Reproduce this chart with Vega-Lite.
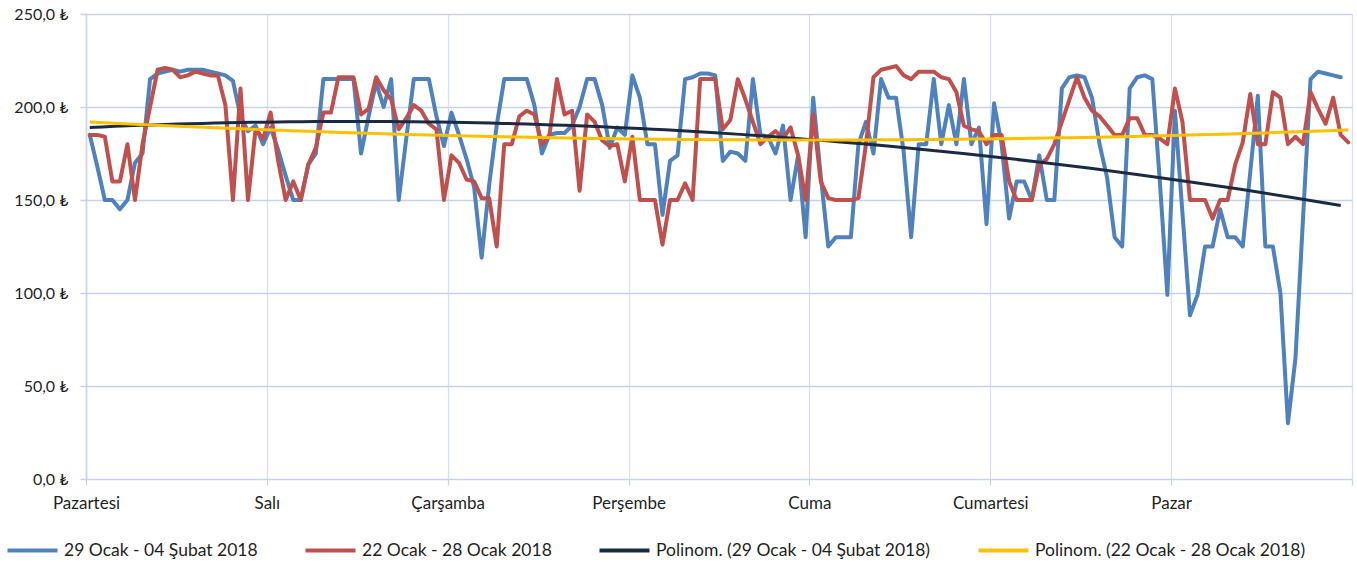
{
  "$schema": "https://vega.github.io/schema/vega-lite/v6.json",
  "autosize": {"type": "none"},
  "padding": {"left": 86, "top": 14, "right": 5, "bottom": 86},
  "width": 1266,
  "height": 465,
  "background": "white",
  "config": {
    "view": {"stroke": null},
    "font": "Lato",
    "axis": {"labelFont": "Lato", "labelColor": "#1f1f1f"},
    "legend": {"labelFont": "Lato", "labelFontSize": 17.5, "labelColor": "#1f1f1f"}
  },
  "datasets": {
    "w5": [
      {"h":0,"v":185},{"h":1,"v":168},{"h":2,"v":150},{"h":3,"v":150},{"h":4,"v":145},{"h":5,"v":150},{"h":6,"v":170},{"h":7,"v":175},{"h":8,"v":215},{"h":9,"v":218},{"h":10,"v":219},{"h":11,"v":220},{"h":12,"v":219},{"h":13,"v":220},{"h":14,"v":220},{"h":15,"v":220},{"h":16,"v":219},{"h":17,"v":218},{"h":18,"v":217},{"h":19,"v":214},{"h":20,"v":195},{"h":21,"v":187},{"h":22,"v":190},{"h":23,"v":180},
      {"h":24,"v":189},{"h":25,"v":177},{"h":26,"v":163},{"h":27,"v":150},{"h":28,"v":150},{"h":29,"v":169},{"h":30,"v":175},{"h":31,"v":215},{"h":32,"v":215},{"h":33,"v":215},{"h":34,"v":215},{"h":35,"v":215},{"h":36,"v":175},{"h":37,"v":195},{"h":38,"v":213},{"h":39,"v":200},{"h":40,"v":215},{"h":41,"v":150},{"h":42,"v":183},{"h":43,"v":215},{"h":44,"v":215},{"h":45,"v":215},{"h":46,"v":195},{"h":47,"v":179},
      {"h":48,"v":197},{"h":49,"v":185},{"h":50,"v":172},{"h":51,"v":157},{"h":52,"v":119},{"h":53,"v":158},{"h":54,"v":190},{"h":55,"v":215},{"h":56,"v":215},{"h":57,"v":215},{"h":58,"v":215},{"h":59,"v":201},{"h":60,"v":175},{"h":61,"v":185},{"h":62,"v":186},{"h":63,"v":186},{"h":64,"v":190},{"h":65,"v":200},{"h":66,"v":215},{"h":67,"v":215},{"h":68,"v":201},{"h":69,"v":178},{"h":70,"v":189},{"h":71,"v":185},
      {"h":72,"v":217},{"h":73,"v":205},{"h":74,"v":180},{"h":75,"v":180},{"h":76,"v":142},{"h":77,"v":171},{"h":78,"v":174},{"h":79,"v":215},{"h":80,"v":216},{"h":81,"v":218},{"h":82,"v":218},{"h":83,"v":217},{"h":84,"v":171},{"h":85,"v":176},{"h":86,"v":175},{"h":87,"v":171},{"h":88,"v":215},{"h":89,"v":185},{"h":90,"v":184},{"h":91,"v":175},{"h":92,"v":190},{"h":93,"v":150},{"h":94,"v":174},{"h":95,"v":130},
      {"h":96,"v":205},{"h":97,"v":163},{"h":98,"v":125},{"h":99,"v":130},{"h":100,"v":130},{"h":101,"v":130},{"h":102,"v":180},{"h":103,"v":192},{"h":104,"v":175},{"h":105,"v":215},{"h":106,"v":205},{"h":107,"v":205},{"h":108,"v":176},{"h":109,"v":130},{"h":110,"v":180},{"h":111,"v":180},{"h":112,"v":215},{"h":113,"v":180},{"h":114,"v":201},{"h":115,"v":180},{"h":116,"v":215},{"h":117,"v":180},{"h":118,"v":189},{"h":119,"v":137},
      {"h":120,"v":202},{"h":121,"v":180},{"h":122,"v":140},{"h":123,"v":160},{"h":124,"v":160},{"h":125,"v":150},{"h":126,"v":174},{"h":127,"v":150},{"h":128,"v":150},{"h":129,"v":210},{"h":130,"v":216},{"h":131,"v":217},{"h":132,"v":216},{"h":133,"v":205},{"h":134,"v":180},{"h":135,"v":162},{"h":136,"v":130},{"h":137,"v":125},{"h":138,"v":210},{"h":139,"v":216},{"h":140,"v":217},{"h":141,"v":215},{"h":142,"v":160},{"h":143,"v":99},
      {"h":144,"v":198},{"h":145,"v":143},{"h":146,"v":88},{"h":147,"v":99},{"h":148,"v":125},{"h":149,"v":125},{"h":150,"v":145},{"h":151,"v":130},{"h":152,"v":130},{"h":153,"v":125},{"h":154,"v":165},{"h":155,"v":206},{"h":156,"v":125},{"h":157,"v":125},{"h":158,"v":100},{"h":159,"v":30},{"h":160,"v":65},{"h":161,"v":140},{"h":162,"v":215},{"h":163,"v":219},{"h":164,"v":218},{"h":165,"v":217},{"h":166,"v":216}
    ],
    "w4": [
      {"h":0,"v":185},{"h":1,"v":185},{"h":2,"v":184},{"h":3,"v":160},{"h":4,"v":160},{"h":5,"v":180},{"h":6,"v":150},{"h":7,"v":180},{"h":8,"v":200},{"h":9,"v":220},{"h":10,"v":221},{"h":11,"v":220},{"h":12,"v":216},{"h":13,"v":217},{"h":14,"v":219},{"h":15,"v":218},{"h":16,"v":217},{"h":17,"v":217},{"h":18,"v":201},{"h":19,"v":150},{"h":20,"v":210},{"h":21,"v":150},{"h":22,"v":188},{"h":23,"v":183},
      {"h":24,"v":197},{"h":25,"v":171},{"h":26,"v":150},{"h":27,"v":160},{"h":28,"v":150},{"h":29,"v":169},{"h":30,"v":178},{"h":31,"v":197},{"h":32,"v":197},{"h":33,"v":216},{"h":34,"v":216},{"h":35,"v":216},{"h":36,"v":196},{"h":37,"v":199},{"h":38,"v":216},{"h":39,"v":209},{"h":40,"v":204},{"h":41,"v":188},{"h":42,"v":194},{"h":43,"v":201},{"h":44,"v":198},{"h":45,"v":191},{"h":46,"v":188},{"h":47,"v":150},
      {"h":48,"v":174},{"h":49,"v":170},{"h":50,"v":161},{"h":51,"v":160},{"h":52,"v":151},{"h":53,"v":151},{"h":54,"v":125},{"h":55,"v":180},{"h":56,"v":180},{"h":57,"v":195},{"h":58,"v":198},{"h":59,"v":196},{"h":60,"v":180},{"h":61,"v":185},{"h":62,"v":215},{"h":63,"v":196},{"h":64,"v":198},{"h":65,"v":155},{"h":66,"v":196},{"h":67,"v":192},{"h":68,"v":182},{"h":69,"v":179},{"h":70,"v":180},{"h":71,"v":160},
      {"h":72,"v":184},{"h":73,"v":150},{"h":74,"v":150},{"h":75,"v":150},{"h":76,"v":126},{"h":77,"v":150},{"h":78,"v":150},{"h":79,"v":159},{"h":80,"v":150},{"h":81,"v":215},{"h":82,"v":215},{"h":83,"v":215},{"h":84,"v":188},{"h":85,"v":193},{"h":86,"v":215},{"h":87,"v":204},{"h":88,"v":192},{"h":89,"v":180},{"h":90,"v":184},{"h":91,"v":187},{"h":92,"v":183},{"h":93,"v":189},{"h":94,"v":174},{"h":95,"v":150},
      {"h":96,"v":196},{"h":97,"v":160},{"h":98,"v":151},{"h":99,"v":150},{"h":100,"v":150},{"h":101,"v":150},{"h":102,"v":151},{"h":103,"v":180},{"h":104,"v":216},{"h":105,"v":220},{"h":106,"v":221},{"h":107,"v":222},{"h":108,"v":217},{"h":109,"v":215},{"h":110,"v":219},{"h":111,"v":219},{"h":112,"v":219},{"h":113,"v":216},{"h":114,"v":215},{"h":115,"v":208},{"h":116,"v":190},{"h":117,"v":188},{"h":118,"v":187},{"h":119,"v":180},
      {"h":120,"v":185},{"h":121,"v":185},{"h":122,"v":160},{"h":123,"v":150},{"h":124,"v":150},{"h":125,"v":150},{"h":126,"v":169},{"h":127,"v":172},{"h":128,"v":180},{"h":129,"v":192},{"h":130,"v":204},{"h":131,"v":216},{"h":132,"v":205},{"h":133,"v":198},{"h":134,"v":195},{"h":135,"v":190},{"h":136,"v":185},{"h":137,"v":185},{"h":138,"v":194},{"h":139,"v":194},{"h":140,"v":185},{"h":141,"v":185},{"h":142,"v":183},{"h":143,"v":180},
      {"h":144,"v":210},{"h":145,"v":192},{"h":146,"v":150},{"h":147,"v":150},{"h":148,"v":150},{"h":149,"v":140},{"h":150,"v":150},{"h":151,"v":150},{"h":152,"v":169},{"h":153,"v":181},{"h":154,"v":207},{"h":155,"v":180},{"h":156,"v":180},{"h":157,"v":208},{"h":158,"v":205},{"h":159,"v":180},{"h":160,"v":184},{"h":161,"v":180},{"h":162,"v":208},{"h":163,"v":199},{"h":164,"v":191},{"h":165,"v":205},{"h":166,"v":185},{"h":167,"v":181}
    ]
  },
  "encoding": {
    "x": {
      "field": "h", "type": "quantitative",
      "scale": {"domain": [-0.5, 167.5], "nice": false, "zero": false},
      "axis": {
        "title": null,
        "values": [-0.5, 23.5, 47.5, 71.5, 95.5, 119.5, 143.5, 167.5],
        "labelExpr": "['Pazartesi','Salı','Çarşamba','Perşembe','Cuma','Cumartesi','Pazar',''][round((datum.value+0.5)/24)]",
        "labelFontSize": 17,
        "labelAlign": "center", "labelPadding": 10, "labelFlush": false, "labelOverlap": false,
        "grid": true, "gridColor": "#d6e0ef", "gridWidth": 1.25,
        "domain": false, "ticks": true, "tickSize": 6, "tickColor": "#c5d3e8", "tickWidth": 1.25
      }
    },
    "y": {
      "field": "v", "type": "quantitative",
      "scale": {"domain": [0, 250], "nice": false},
      "axis": {
        "title": null,
        "values": [0, 50, 100, 150, 200, 250],
        "labelExpr": "replace(format(datum.value, '.1f'), '.', ',') + ' ₺'",
        "labelFontSize": 16,
        "labelPadding": 12,
        "grid": true, "gridColor": "#c5d3e8", "gridWidth": 1.5,
        "domain": true, "domainColor": "#c5d3e8", "domainWidth": 1.5,
        "ticks": true, "tickSize": 6, "tickColor": "#c5d3e8", "tickWidth": 1.5
      }
    }
  },
  "layer": [
    {
      "data": {"name": "w5"},
      "mark": {"type": "line", "strokeWidth": 4, "strokeJoin": "round", "strokeCap": "round"},
      "encoding": {
        "color": {
          "datum": "29 Ocak - 04 Şubat 2018",
          "type": "nominal",
          "scale": {
            "domain": ["29 Ocak - 04 Şubat 2018", "22 Ocak - 28 Ocak 2018", "Polinom. (29 Ocak - 04 Şubat 2018)", "Polinom. (22 Ocak - 28 Ocak 2018)"],
            "range": ["#4f81bd", "#c0504d", "#1b2a43", "#ffc000"]
          },
          "legend": {
            "title": null, "orient": "none", "direction": "horizontal",
            "legendX": -81, "legendY": 509,
            "symbolType": "stroke", "symbolSize": 2500, "symbolStrokeWidth": 4.2,
            "labelOffset": 4, "columnPadding": 39, "labelLimit": 400
          }
        }
      }
    },
    {
      "data": {"name": "w4"},
      "mark": {"type": "line", "strokeWidth": 4, "strokeJoin": "round", "strokeCap": "round"},
      "encoding": {"color": {"datum": "22 Ocak - 28 Ocak 2018", "type": "nominal"}}
    },
    {
      "data": {"name": "w5"},
      "transform": [{"regression": "v", "on": "h", "method": "poly", "order": 2}],
      "mark": {"type": "line", "strokeWidth": 3},
      "encoding": {"color": {"datum": "Polinom. (29 Ocak - 04 Şubat 2018)", "type": "nominal"}}
    },
    {
      "data": {"name": "w4"},
      "transform": [{"regression": "v", "on": "h", "method": "poly", "order": 2}],
      "mark": {"type": "line", "strokeWidth": 3},
      "encoding": {"color": {"datum": "Polinom. (22 Ocak - 28 Ocak 2018)", "type": "nominal"}}
    }
  ]
}
